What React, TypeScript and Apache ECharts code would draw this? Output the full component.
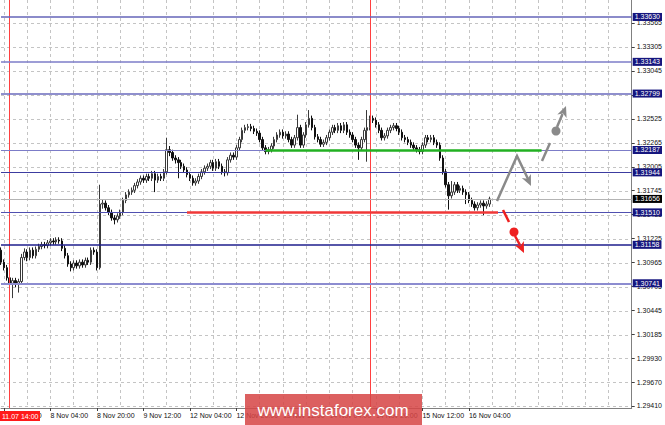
import React, { useEffect, useRef } from "react";
import * as echarts from "echarts";

// Bottom time labels and the category index they sit on
const timeLabelIndex = [1, 17, 33, 49, 65, 81, 97, 113, 129, 145, 161];
const timeLabels = [
  "7 Nov 12:00", "8 Nov 04:00", "8 Nov 20:00", "9 Nov 12:00", "12 Nov 04:00",
  "12 Nov 20:00", "13 Nov 12:00", "14 Nov 04:00", "14 Nov 20:00", "15 Nov 12:00", "16 Nov 04:00",
];
const slotCount = 218;

// Right price scale tick labels
const priceTicks = [
  1.2941, 1.2967, 1.2993, 1.30185, 1.30445, 1.30705, 1.30965, 1.31225, 1.31485,
  1.31745, 1.32005, 1.32265, 1.32525, 1.32785, 1.33045, 1.33305, 1.33565,
];

// Horizontal levels
const levelValues = [1.3363, 1.33143, 1.32799, 1.32187, 1.31944, 1.3151, 1.31158, 1.30741];
const levelColors = ["#6464b8", "#7c7cc8", "#6a6abc", "#7c7cc8", "#3c3ca0", "#5050b0", "#1e1e8c", "#8c8cd0"];
const levelWidths = [1.5, 1.5, 1.5, 1, 1.2, 1.2, 1.5, 2];
const currentPrice = 1.31656;
const resistance = 1.32187;
const resistanceFrom = 91;
const resistanceTo = 186;
const support = 1.3151;
const supportFrom = 64;
const supportTo = 171;
const separators = [3, 127];

// Candles: [open, close, low, high]
const candles = [
  [1.3110, 1.3097, 1.3094, 1.3113],
  [1.3097, 1.3091, 1.3088, 1.3100],
  [1.3091, 1.3080, 1.3077, 1.3094],
  [1.3080, 1.3074, 1.3068, 1.3083],
  [1.3074, 1.3077, 1.3058, 1.3080],
  [1.3077, 1.3074, 1.3070, 1.3080],
  [1.3074, 1.3076, 1.3064, 1.3079],
  [1.3076, 1.3102, 1.3073, 1.3106],
  [1.3102, 1.3108, 1.3099, 1.3112],
  [1.3108, 1.3102, 1.3098, 1.3111],
  [1.3102, 1.3110, 1.3099, 1.3113],
  [1.3110, 1.3104, 1.3101, 1.3113],
  [1.3104, 1.3111, 1.3101, 1.3114],
  [1.3111, 1.3114, 1.3108, 1.3117],
  [1.3114, 1.3116, 1.3111, 1.3119],
  [1.3116, 1.3115, 1.3112, 1.3119],
  [1.3115, 1.3118, 1.3112, 1.3121],
  [1.3118, 1.3120, 1.3115, 1.3123],
  [1.3120, 1.3119, 1.3116, 1.3123],
  [1.3119, 1.3121, 1.3116, 1.3124],
  [1.3121, 1.3120, 1.3117, 1.3124],
  [1.3120, 1.3112, 1.3109, 1.3123],
  [1.3112, 1.3104, 1.3101, 1.3115],
  [1.3104, 1.3095, 1.3092, 1.3107],
  [1.3095, 1.3091, 1.3087, 1.3098],
  [1.3091, 1.3096, 1.3088, 1.3099],
  [1.3096, 1.3093, 1.3090, 1.3099],
  [1.3093, 1.3097, 1.3090, 1.3100],
  [1.3097, 1.3094, 1.3091, 1.3100],
  [1.3094, 1.3099, 1.3091, 1.3102],
  [1.3099, 1.3097, 1.3094, 1.3102],
  [1.3097, 1.3110, 1.3094, 1.3113],
  [1.3110, 1.3108, 1.3105, 1.3113],
  [1.3108, 1.3091, 1.3088, 1.3111],
  [1.3091, 1.3160, 1.3089, 1.3181],
  [1.3160, 1.3161, 1.3155, 1.3165],
  [1.3161, 1.3156, 1.3153, 1.3164],
  [1.3156, 1.3151, 1.3148, 1.3159],
  [1.3151, 1.3145, 1.3142, 1.3154],
  [1.3145, 1.3143, 1.3138, 1.3148],
  [1.3143, 1.3147, 1.3140, 1.3150],
  [1.3147, 1.3151, 1.3144, 1.3154],
  [1.3151, 1.3164, 1.3148, 1.3167],
  [1.3164, 1.3170, 1.3161, 1.3173],
  [1.3170, 1.3173, 1.3167, 1.3176],
  [1.3173, 1.3175, 1.3170, 1.3178],
  [1.3175, 1.3180, 1.3172, 1.3183],
  [1.3180, 1.3184, 1.3177, 1.3187],
  [1.3184, 1.3188, 1.3181, 1.3191],
  [1.3188, 1.3186, 1.3183, 1.3191],
  [1.3186, 1.3190, 1.3183, 1.3193],
  [1.3190, 1.3188, 1.3185, 1.3193],
  [1.3188, 1.3193, 1.3185, 1.3196],
  [1.3193, 1.3186, 1.3173, 1.3196],
  [1.3186, 1.3190, 1.3183, 1.3193],
  [1.3190, 1.3188, 1.3185, 1.3193],
  [1.3188, 1.3195, 1.3185, 1.3198],
  [1.3195, 1.3219, 1.3192, 1.3232],
  [1.3219, 1.3216, 1.3212, 1.3223],
  [1.3216, 1.3210, 1.3207, 1.3219],
  [1.3210, 1.3208, 1.3204, 1.3213],
  [1.3208, 1.3205, 1.3188, 1.3211],
  [1.3205, 1.3201, 1.3198, 1.3208],
  [1.3201, 1.3197, 1.3194, 1.3204],
  [1.3197, 1.3192, 1.3189, 1.3200],
  [1.3192, 1.3188, 1.3185, 1.3195],
  [1.3188, 1.3183, 1.3180, 1.3191],
  [1.3183, 1.3185, 1.3180, 1.3188],
  [1.3185, 1.3190, 1.3182, 1.3193],
  [1.3190, 1.3195, 1.3187, 1.3198],
  [1.3195, 1.3199, 1.3192, 1.3202],
  [1.3199, 1.3201, 1.3196, 1.3204],
  [1.3201, 1.3205, 1.3198, 1.3208],
  [1.3205, 1.3199, 1.3196, 1.3208],
  [1.3199, 1.3206, 1.3196, 1.3209],
  [1.3206, 1.3201, 1.3198, 1.3209],
  [1.3201, 1.3195, 1.3192, 1.3204],
  [1.3195, 1.3194, 1.3190, 1.3198],
  [1.3194, 1.3208, 1.3191, 1.3211],
  [1.3208, 1.3213, 1.3205, 1.3216],
  [1.3213, 1.3211, 1.3208, 1.3216],
  [1.3211, 1.3221, 1.3208, 1.3224],
  [1.3221, 1.3230, 1.3218, 1.3233],
  [1.3230, 1.3240, 1.3227, 1.3243],
  [1.3240, 1.3243, 1.3237, 1.3246],
  [1.3243, 1.3244, 1.3240, 1.3247],
  [1.3244, 1.3242, 1.3239, 1.3247],
  [1.3242, 1.3239, 1.3236, 1.3245],
  [1.3239, 1.3237, 1.3234, 1.3242],
  [1.3237, 1.3230, 1.3227, 1.3240],
  [1.3230, 1.3221, 1.3218, 1.3233],
  [1.3221, 1.3217, 1.3214, 1.3224],
  [1.3217, 1.3219, 1.3214, 1.3222],
  [1.3219, 1.3223, 1.3216, 1.3226],
  [1.3223, 1.3230, 1.3220, 1.3233],
  [1.3230, 1.3235, 1.3227, 1.3238],
  [1.3235, 1.3238, 1.3232, 1.3241],
  [1.3238, 1.3234, 1.3231, 1.3241],
  [1.3234, 1.3236, 1.3231, 1.3239],
  [1.3236, 1.3230, 1.3227, 1.3239],
  [1.3230, 1.3224, 1.3221, 1.3233],
  [1.3224, 1.3232, 1.3221, 1.3235],
  [1.3232, 1.3243, 1.3229, 1.3257],
  [1.3243, 1.3224, 1.3221, 1.3246],
  [1.3224, 1.3235, 1.3221, 1.3238],
  [1.3235, 1.3246, 1.3232, 1.3249],
  [1.3246, 1.3253, 1.3243, 1.3262],
  [1.3253, 1.3243, 1.3240, 1.3256],
  [1.3243, 1.3233, 1.3230, 1.3246],
  [1.3233, 1.3230, 1.3227, 1.3236],
  [1.3230, 1.3225, 1.3222, 1.3233],
  [1.3225, 1.3227, 1.3222, 1.3230],
  [1.3227, 1.3232, 1.3224, 1.3235],
  [1.3232, 1.3238, 1.3229, 1.3241],
  [1.3238, 1.3243, 1.3235, 1.3246],
  [1.3243, 1.3240, 1.3237, 1.3246],
  [1.3240, 1.3245, 1.3237, 1.3248],
  [1.3245, 1.3240, 1.3237, 1.3248],
  [1.3240, 1.3246, 1.3237, 1.3249],
  [1.3246, 1.3238, 1.3235, 1.3249],
  [1.3238, 1.3235, 1.3232, 1.3241],
  [1.3235, 1.3230, 1.3227, 1.3238],
  [1.3230, 1.3224, 1.3221, 1.3233],
  [1.3224, 1.3221, 1.3208, 1.3227],
  [1.3221, 1.3230, 1.3218, 1.3233],
  [1.3230, 1.3240, 1.3227, 1.3243],
  [1.3240, 1.3243, 1.3206, 1.3262],
  [1.3243, 1.3253, 1.3240, 1.3256],
  [1.3253, 1.3251, 1.3248, 1.3256],
  [1.3251, 1.3246, 1.3243, 1.3254],
  [1.3246, 1.3240, 1.3237, 1.3249],
  [1.3240, 1.3232, 1.3229, 1.3243],
  [1.3232, 1.3234, 1.3229, 1.3237],
  [1.3234, 1.3240, 1.3231, 1.3243],
  [1.3240, 1.3243, 1.3237, 1.3246],
  [1.3243, 1.3245, 1.3240, 1.3248],
  [1.3245, 1.3242, 1.3239, 1.3248],
  [1.3242, 1.3238, 1.3235, 1.3245],
  [1.3238, 1.3232, 1.3229, 1.3241],
  [1.3232, 1.3230, 1.3227, 1.3235],
  [1.3230, 1.3227, 1.3224, 1.3233],
  [1.3227, 1.3224, 1.3221, 1.3230],
  [1.3224, 1.3221, 1.3218, 1.3227],
  [1.3221, 1.3219, 1.3216, 1.3224],
  [1.3219, 1.3217, 1.3214, 1.3222],
  [1.3217, 1.3224, 1.3214, 1.3227],
  [1.3224, 1.3232, 1.3221, 1.3235],
  [1.3232, 1.3230, 1.3227, 1.3235],
  [1.3230, 1.3232, 1.3227, 1.3235],
  [1.3232, 1.3227, 1.3224, 1.3235],
  [1.3227, 1.3224, 1.3221, 1.3230],
  [1.3224, 1.3210, 1.3207, 1.3227],
  [1.3210, 1.3195, 1.3192, 1.3213],
  [1.3195, 1.3181, 1.3178, 1.3198],
  [1.3181, 1.3169, 1.3154, 1.3184],
  [1.3169, 1.3173, 1.3166, 1.3185],
  [1.3173, 1.3181, 1.3170, 1.3184],
  [1.3181, 1.3175, 1.3172, 1.3184],
  [1.3175, 1.3177, 1.3172, 1.3180],
  [1.3177, 1.3173, 1.3170, 1.3180],
  [1.3173, 1.3170, 1.3160, 1.3176],
  [1.3170, 1.3164, 1.3161, 1.3173],
  [1.3164, 1.3160, 1.3157, 1.3167],
  [1.3160, 1.3156, 1.3153, 1.3163],
  [1.3156, 1.3159, 1.3153, 1.3162],
  [1.3159, 1.3161, 1.3156, 1.3164],
  [1.3161, 1.3158, 1.3148, 1.3164],
  [1.3158, 1.3160, 1.3155, 1.3163],
  [1.3160, 1.31656, 1.3157, 1.3168],
];

const FONT = "Liberation Sans";

export default function App() {
  const ref = useRef<HTMLDivElement>(null);
  useEffect(() => {
    if (!ref.current) return;
    const chart = echarts.init(ref.current, undefined, { renderer: "svg" });
    const categories = Array.from({ length: slotCount }, (_, i) => String(i));
    const labelFor = (idx: number) => {
      const k = timeLabelIndex.indexOf(idx);
      return k >= 0 ? timeLabels[k] : "";
    };
    const levelLines = levelValues.map((v, i) => ({
      yAxis: v,
      lineStyle: { color: levelColors[i], width: levelWidths[i], type: "solid" },
      label: {
        show: true,
        position: "end",
        distance: 1,
        formatter: () => v.toFixed(5),
        backgroundColor: "#16167e",
        color: "#ffffff",
        fontSize: 7,
        fontFamily: FONT,
        padding: [1, 2, 0, 2],
      },
    }));
    const annotations: any[] = [
      // gray zig-zag scenario
      { id: "g1", type: "polyline", z: 50, shape: { points: [[497, 201], [517, 156], [528.5, 180]] }, style: { stroke: "#8a8a8a", lineWidth: 2.5, fill: null } },
      { id: "g2", type: "polygon", z: 50, shape: { points: [[521.8, 178.1], [531, 186], [530.9, 173.9], [527.6, 178.8]] }, style: { fill: "#8a8a8a" } },
      // gray dashed upward scenario
      { id: "g3", type: "line", z: 50, shape: { x1: 542, y1: 161, x2: 550, y2: 143 }, style: { stroke: "#8a8a8a", lineWidth: 2.5 } },
      { id: "g4", type: "circle", z: 50, shape: { cx: 556, cy: 131, r: 4.5 }, style: { fill: "#8a8a8a" } },
      { id: "g5", type: "line", z: 50, shape: { x1: 557, y1: 127, x2: 562.5, y2: 114 }, style: { stroke: "#8a8a8a", lineWidth: 2.5 } },
      { id: "g6", type: "polygon", z: 50, shape: { points: [[566.6, 118.1], [566, 106], [557.3, 114.4], [563, 113.4]] }, style: { fill: "#8a8a8a" } },
      // red downward scenario
      { id: "r1", type: "line", z: 50, shape: { x1: 503, y1: 210, x2: 509, y2: 222 }, style: { stroke: "#ee2020", lineWidth: 2.5 } },
      { id: "r2", type: "circle", z: 50, shape: { cx: 514, cy: 232, r: 4.5 }, style: { fill: "#ee2020" } },
      { id: "r3", type: "line", z: 50, shape: { x1: 515, y1: 236, x2: 520, y2: 245 }, style: { stroke: "#ee2020", lineWidth: 2.5 } },
      { id: "r4", type: "polygon", z: 50, shape: { points: [[514.8, 245.2], [524, 253], [523.8, 240.9], [520.6, 245.8]] }, style: { fill: "#ee2020" } },
      // separator date label
      { id: "s1", type: "rect", z: 60, shape: { x: 0, y: 411, width: 40, height: 10 }, style: { fill: "#ff1a1a" } },
      { id: "s2", type: "text", z: 61, x: 2, y: 416, style: { text: "11.07 14:00", fill: "#ffffff", font: `7px "${FONT}"`, verticalAlign: "middle", align: "left" } },
      // watermark
      { id: "w1", type: "rect", z: 70, shape: { x: 245, y: 394, width: 177, height: 31 }, style: { fill: "rgba(214,70,70,0.86)" } },
      { id: "w2", type: "text", z: 71, x: 333, y: 410, style: { text: "www.instaforex.com", fill: "#ffffff", font: `17px "${FONT}"`, align: "center", verticalAlign: "middle" } },
    ];
    const option: any = {
      animation: false,
      backgroundColor: "#ffffff",
      grid: { left: 1, right: 32, top: 0, bottom: 17, containLabel: false },
      xAxis: {
        type: "category",
        data: categories,
        boundaryGap: false,
        axisLine: { show: true, lineStyle: { color: "#808080", width: 1 } },
        axisTick: {
          show: true,
          length: 3,
          interval: (i: number) => timeLabelIndex.includes(i),
          lineStyle: { color: "#404040" },
        },
        axisLabel: {
          show: true,
          interval: (i: number) => timeLabelIndex.includes(i),
          formatter: (_v: string, i: number) => labelFor(i),
          align: "left",
          margin: 4,
          fontSize: 7,
          fontFamily: FONT,
          color: "#111",
        },
        splitLine: {
          show: true,
          interval: (i: number) => (i - 1) % 8 === 0,
          lineStyle: { color: "#c4c4c4", type: [3, 3], width: 1 },
        },
      },
      yAxis: {
        type: "value",
        position: "right",
        min: 1.29388,
        max: 1.33814,
        scale: true,
        axisLine: { show: true, lineStyle: { color: "#808080", width: 1 } },
        axisTick: { show: true, length: 3, customValues: priceTicks, lineStyle: { color: "#404040" } },
        axisLabel: {
          show: true,
          customValues: priceTicks,
          formatter: (v: number) => v.toFixed(5),
          margin: 5,
          fontSize: 7,
          fontFamily: FONT,
          color: "#111",
        },
        splitLine: { show: false },
      },
      series: [
        {
          type: "candlestick",
          data: candles,
          z: 3,
          barWidth: 2,
          itemStyle: {
            color: "#ffffff",
            borderColor: "#3a3a3a",
            color0: "#111111",
            borderColor0: "#111111",
            borderWidth: 1,
          },
          markLine: {
            silent: true,
            precision: 6,
            symbol: "none",
            label: { show: false },
            data: [
              ...separators.map((s) => ({
                xAxis: s,
                lineStyle: { color: "#ff4040", width: 1, type: "solid" },
                label: { show: false },
              })),
              {
                yAxis: currentPrice,
                lineStyle: { color: "#b4b4b4", width: 1, type: "solid" },
                label: {
                  show: true,
                  position: "end",
                  distance: 1,
                  formatter: () => currentPrice.toFixed(5),
                  backgroundColor: "#000000",
                  color: "#ffffff",
                  fontSize: 7,
                  fontFamily: FONT,
                  padding: [1, 2, 0, 2],
                },
              },
              ...levelLines,
              [
                { coord: [resistanceFrom, resistance], lineStyle: { color: "#22b022", width: 2.5, type: "solid" } },
                { coord: [resistanceTo, resistance] },
              ],
              [
                { coord: [supportFrom, support], lineStyle: { color: "#f03838", width: 2.5, type: "solid" } },
                { coord: [supportTo, support] },
              ],
            ],
          },
        },
      ],
      graphic: annotations,
    };
    chart.setOption(option);

    // price grid: dashed lines placed through the y axis scale
    try {
      const xa = chart.convertToPixel({ xAxisIndex: 0 }, 0) as number;
      const xb = chart.convertToPixel({ xAxisIndex: 0 }, slotCount - 1) as number;
      const gridGraphics = priceTicks.map((v, i) => {
        const py = Math.round(chart.convertToPixel({ yAxisIndex: 0 }, v) as number) + 0.5;
        return {
          id: "pg" + i,
          type: "line",
          z: -1,
          silent: true,
          shape: { x1: xa, y1: py, x2: xb, y2: py },
          style: { stroke: "#c4c4c4", lineWidth: 1, lineDash: [3, 3] },
        };
      });
      chart.setOption({ graphic: [...annotations, ...gridGraphics] });
    } catch (e) {
      // keep chart without price grid if conversion fails
    }
    return () => chart.dispose();
  }, []);
  return (
    <div
      ref={ref}
      style={{ position: "absolute", left: 0, top: 0, width: 665, height: 425, background: "#fff" }}
    />
  );
}
